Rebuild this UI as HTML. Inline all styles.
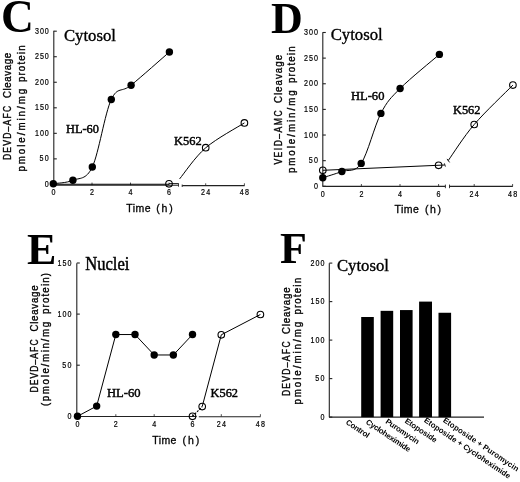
<!DOCTYPE html><html><head><meta charset="utf-8"><style>html,body{margin:0;padding:0;background:#fff;width:520px;height:482px;overflow:hidden}svg{display:block;will-change:transform}</style></head><body>
<svg width="520" height="482" viewBox="0 0 520 482">
<rect width="520" height="482" fill="#fff"/>
<text x="1.00" y="31.80" font-size="45.5" font-family='"Liberation Serif", serif' font-weight="bold" text-anchor="start" fill="#000" >C</text>
<line x1="53.80" y1="30.80" x2="53.80" y2="184.60" stroke="#222" stroke-width="1.1"/>
<line x1="53.80" y1="184.40" x2="56.80" y2="184.40" stroke="#222" stroke-width="1.1"/>
<text x="0" y="0" font-size="8.3" font-family='"Liberation Sans", sans-serif' font-weight="normal" text-anchor="end" fill="#000" stroke="#000" stroke-width="0.2" transform="translate(48.80,187.00) scale(0.86,1)" >0</text>
<line x1="53.80" y1="158.87" x2="56.80" y2="158.87" stroke="#222" stroke-width="1.1"/>
<text x="0" y="0" font-size="8.3" font-family='"Liberation Sans", sans-serif' font-weight="normal" text-anchor="end" fill="#000" textLength="10.70" lengthAdjust="spacing" stroke="#000" stroke-width="0.2" transform="translate(48.80,161.47) scale(0.86,1)" >50</text>
<line x1="53.80" y1="133.33" x2="56.80" y2="133.33" stroke="#222" stroke-width="1.1"/>
<text x="0" y="0" font-size="8.3" font-family='"Liberation Sans", sans-serif' font-weight="normal" text-anchor="end" fill="#000" textLength="16.05" lengthAdjust="spacing" stroke="#000" stroke-width="0.2" transform="translate(48.80,135.93) scale(0.86,1)" >100</text>
<line x1="53.80" y1="107.80" x2="56.80" y2="107.80" stroke="#222" stroke-width="1.1"/>
<text x="0" y="0" font-size="8.3" font-family='"Liberation Sans", sans-serif' font-weight="normal" text-anchor="end" fill="#000" textLength="16.05" lengthAdjust="spacing" stroke="#000" stroke-width="0.2" transform="translate(48.80,110.39) scale(0.86,1)" >150</text>
<line x1="53.80" y1="82.26" x2="56.80" y2="82.26" stroke="#222" stroke-width="1.1"/>
<text x="0" y="0" font-size="8.3" font-family='"Liberation Sans", sans-serif' font-weight="normal" text-anchor="end" fill="#000" textLength="16.05" lengthAdjust="spacing" stroke="#000" stroke-width="0.2" transform="translate(48.80,84.86) scale(0.86,1)" >200</text>
<line x1="53.80" y1="56.72" x2="56.80" y2="56.72" stroke="#222" stroke-width="1.1"/>
<text x="0" y="0" font-size="8.3" font-family='"Liberation Sans", sans-serif' font-weight="normal" text-anchor="end" fill="#000" textLength="16.05" lengthAdjust="spacing" stroke="#000" stroke-width="0.2" transform="translate(48.80,59.32) scale(0.86,1)" >250</text>
<line x1="53.80" y1="31.19" x2="56.80" y2="31.19" stroke="#222" stroke-width="1.1"/>
<text x="0" y="0" font-size="8.3" font-family='"Liberation Sans", sans-serif' font-weight="normal" text-anchor="end" fill="#000" textLength="16.05" lengthAdjust="spacing" stroke="#000" stroke-width="0.2" transform="translate(48.80,33.79) scale(0.86,1)" >300</text>
<line x1="53.30" y1="185.20" x2="178.50" y2="185.20" stroke="#222" stroke-width="1.1"/>
<line x1="178.50" y1="183.20" x2="178.50" y2="186.70" stroke="#222" stroke-width="0.9"/>
<line x1="182.20" y1="184.50" x2="182.20" y2="187.00" stroke="#222" stroke-width="0.9"/>
<line x1="182.20" y1="185.60" x2="244.60" y2="185.60" stroke="#222" stroke-width="1.1"/>
<line x1="92.00" y1="185.20" x2="92.00" y2="182.60" stroke="#222" stroke-width="0.8"/>
<line x1="130.50" y1="185.20" x2="130.50" y2="182.60" stroke="#222" stroke-width="0.8"/>
<line x1="169.00" y1="185.20" x2="169.00" y2="182.60" stroke="#222" stroke-width="0.8"/>
<line x1="205.70" y1="185.60" x2="205.70" y2="183.30" stroke="#222" stroke-width="0.8"/>
<line x1="244.40" y1="185.60" x2="244.40" y2="183.30" stroke="#222" stroke-width="0.8"/>
<text x="0" y="0" font-size="8.3" font-family='"Liberation Sans", sans-serif' font-weight="normal" text-anchor="middle" fill="#000" stroke="#000" stroke-width="0.2" transform="translate(53.50,195.40) scale(0.86,1)" >0</text>
<text x="0" y="0" font-size="8.3" font-family='"Liberation Sans", sans-serif' font-weight="normal" text-anchor="middle" fill="#000" stroke="#000" stroke-width="0.2" transform="translate(92.00,195.40) scale(0.86,1)" >2</text>
<text x="0" y="0" font-size="8.3" font-family='"Liberation Sans", sans-serif' font-weight="normal" text-anchor="middle" fill="#000" stroke="#000" stroke-width="0.2" transform="translate(130.50,195.40) scale(0.86,1)" >4</text>
<text x="0" y="0" font-size="8.3" font-family='"Liberation Sans", sans-serif' font-weight="normal" text-anchor="middle" fill="#000" stroke="#000" stroke-width="0.2" transform="translate(169.00,195.40) scale(0.86,1)" >6</text>
<text x="0" y="0" font-size="8.3" font-family='"Liberation Sans", sans-serif' font-weight="normal" text-anchor="middle" fill="#000" textLength="10.70" lengthAdjust="spacing" stroke="#000" stroke-width="0.2" transform="translate(205.70,195.40) scale(0.86,1)" >24</text>
<text x="0" y="0" font-size="8.3" font-family='"Liberation Sans", sans-serif' font-weight="normal" text-anchor="middle" fill="#000" textLength="10.70" lengthAdjust="spacing" stroke="#000" stroke-width="0.2" transform="translate(244.40,195.40) scale(0.86,1)" >48</text>
<text x="126.30" y="211.50" font-size="10.5" font-family='"Liberation Sans", sans-serif' font-weight="normal" text-anchor="start" fill="#000" textLength="24.20" lengthAdjust="spacing" stroke="#000" stroke-width="0.3" >Time</text>
<text x="156.30" y="211.50" font-size="10.5" font-family='"Liberation Sans", sans-serif' font-weight="normal" text-anchor="start" fill="#000" textLength="16.40" lengthAdjust="spacing" stroke="#000" stroke-width="0.3" >(h)</text>
<text x="63.90" y="41.30" font-size="16.5" font-family='"Liberation Serif", serif' font-weight="normal" text-anchor="start" fill="#000" textLength="52.00" lengthAdjust="spacingAndGlyphs" stroke="#000" stroke-width="0.35" >Cytosol</text>
<path d="M53.30,183.70 C56.57,183.13 66.40,183.08 72.90,180.30 C79.40,177.52 85.90,180.47 92.30,167.00 C98.70,153.53 104.83,113.13 111.30,99.50 C117.77,85.87 121.42,93.12 131.10,85.20 C140.78,77.28 163.02,57.53 169.40,52.00" stroke="#000" stroke-width="1.0" fill="none"/>
<circle cx="53.30" cy="183.70" r="3.7" fill="#000"/>
<circle cx="72.90" cy="180.30" r="3.7" fill="#000"/>
<circle cx="92.30" cy="167.00" r="3.7" fill="#000"/>
<circle cx="111.30" cy="99.50" r="3.7" fill="#000"/>
<circle cx="131.10" cy="85.20" r="3.7" fill="#000"/>
<circle cx="169.40" cy="52.00" r="3.7" fill="#000"/>
<line x1="53.30" y1="184.30" x2="169.00" y2="184.30" stroke="#000" stroke-width="1.1"/>
<line x1="169.00" y1="183.60" x2="178.20" y2="183.60" stroke="#000" stroke-width="0.9"/>
<path d="M179.60,178.90 C183.95,173.72 194.90,157.13 205.70,147.80 C216.50,138.47 237.95,127.05 244.40,122.90" stroke="#000" stroke-width="1.0" fill="none"/>
<circle cx="169.00" cy="183.80" r="3.3" fill="none" stroke="#000" stroke-width="1.1"/>
<circle cx="205.70" cy="147.70" r="3.3" fill="none" stroke="#000" stroke-width="1.1"/>
<circle cx="244.40" cy="122.90" r="3.3" fill="none" stroke="#000" stroke-width="1.1"/>
<text x="66.00" y="132.70" font-size="12.8" font-family='"Liberation Serif", serif' font-weight="normal" text-anchor="start" fill="#000" textLength="33.00" lengthAdjust="spacingAndGlyphs" stroke="#000" stroke-width="0.45" >HL-60</text>
<text x="174.00" y="144.50" font-size="12.8" font-family='"Liberation Serif", serif' font-weight="normal" text-anchor="start" fill="#000" textLength="27.60" lengthAdjust="spacingAndGlyphs" stroke="#000" stroke-width="0.45" >K562</text>
<text x="271.00" y="32.60" font-size="44" font-family='"Liberation Serif", serif' font-weight="bold" text-anchor="start" fill="#000" >D</text>
<line x1="322.80" y1="32.20" x2="322.80" y2="186.40" stroke="#222" stroke-width="1.1"/>
<line x1="322.80" y1="186.30" x2="325.80" y2="186.30" stroke="#222" stroke-width="1.1"/>
<text x="0" y="0" font-size="8.3" font-family='"Liberation Sans", sans-serif' font-weight="normal" text-anchor="end" fill="#000" stroke="#000" stroke-width="0.2" transform="translate(317.90,188.90) scale(0.86,1)" >0</text>
<line x1="322.80" y1="160.67" x2="325.80" y2="160.67" stroke="#222" stroke-width="1.1"/>
<text x="0" y="0" font-size="8.3" font-family='"Liberation Sans", sans-serif' font-weight="normal" text-anchor="end" fill="#000" textLength="10.70" lengthAdjust="spacing" stroke="#000" stroke-width="0.2" transform="translate(317.90,163.27) scale(0.86,1)" >50</text>
<line x1="322.80" y1="135.03" x2="325.80" y2="135.03" stroke="#222" stroke-width="1.1"/>
<text x="0" y="0" font-size="8.3" font-family='"Liberation Sans", sans-serif' font-weight="normal" text-anchor="end" fill="#000" textLength="16.05" lengthAdjust="spacing" stroke="#000" stroke-width="0.2" transform="translate(317.90,137.63) scale(0.86,1)" >100</text>
<line x1="322.80" y1="109.40" x2="325.80" y2="109.40" stroke="#222" stroke-width="1.1"/>
<text x="0" y="0" font-size="8.3" font-family='"Liberation Sans", sans-serif' font-weight="normal" text-anchor="end" fill="#000" textLength="16.05" lengthAdjust="spacing" stroke="#000" stroke-width="0.2" transform="translate(317.90,112.00) scale(0.86,1)" >150</text>
<line x1="322.80" y1="83.76" x2="325.80" y2="83.76" stroke="#222" stroke-width="1.1"/>
<text x="0" y="0" font-size="8.3" font-family='"Liberation Sans", sans-serif' font-weight="normal" text-anchor="end" fill="#000" textLength="16.05" lengthAdjust="spacing" stroke="#000" stroke-width="0.2" transform="translate(317.90,86.36) scale(0.86,1)" >200</text>
<line x1="322.80" y1="58.12" x2="325.80" y2="58.12" stroke="#222" stroke-width="1.1"/>
<text x="0" y="0" font-size="8.3" font-family='"Liberation Sans", sans-serif' font-weight="normal" text-anchor="end" fill="#000" textLength="16.05" lengthAdjust="spacing" stroke="#000" stroke-width="0.2" transform="translate(317.90,60.73) scale(0.86,1)" >250</text>
<line x1="322.80" y1="32.49" x2="325.80" y2="32.49" stroke="#222" stroke-width="1.1"/>
<text x="0" y="0" font-size="8.3" font-family='"Liberation Sans", sans-serif' font-weight="normal" text-anchor="end" fill="#000" textLength="16.05" lengthAdjust="spacing" stroke="#000" stroke-width="0.2" transform="translate(317.90,35.09) scale(0.86,1)" >300</text>
<line x1="322.60" y1="186.40" x2="445.40" y2="186.40" stroke="#222" stroke-width="1.1"/>
<line x1="445.40" y1="184.60" x2="445.40" y2="188.20" stroke="#222" stroke-width="0.9"/>
<line x1="449.50" y1="184.60" x2="449.50" y2="188.20" stroke="#222" stroke-width="0.9"/>
<line x1="449.50" y1="186.40" x2="512.80" y2="186.40" stroke="#222" stroke-width="1.1"/>
<line x1="361.40" y1="186.40" x2="361.40" y2="184.00" stroke="#222" stroke-width="0.8"/>
<line x1="400.00" y1="186.40" x2="400.00" y2="184.00" stroke="#222" stroke-width="0.8"/>
<line x1="438.60" y1="186.40" x2="438.60" y2="184.00" stroke="#222" stroke-width="0.8"/>
<line x1="474.20" y1="186.40" x2="474.20" y2="184.00" stroke="#222" stroke-width="0.8"/>
<line x1="512.60" y1="186.40" x2="512.60" y2="184.00" stroke="#222" stroke-width="0.8"/>
<text x="0" y="0" font-size="8.3" font-family='"Liberation Sans", sans-serif' font-weight="normal" text-anchor="middle" fill="#000" stroke="#000" stroke-width="0.2" transform="translate(322.80,197.20) scale(0.86,1)" >0</text>
<text x="0" y="0" font-size="8.3" font-family='"Liberation Sans", sans-serif' font-weight="normal" text-anchor="middle" fill="#000" stroke="#000" stroke-width="0.2" transform="translate(361.40,197.20) scale(0.86,1)" >2</text>
<text x="0" y="0" font-size="8.3" font-family='"Liberation Sans", sans-serif' font-weight="normal" text-anchor="middle" fill="#000" stroke="#000" stroke-width="0.2" transform="translate(400.00,197.20) scale(0.86,1)" >4</text>
<text x="0" y="0" font-size="8.3" font-family='"Liberation Sans", sans-serif' font-weight="normal" text-anchor="middle" fill="#000" stroke="#000" stroke-width="0.2" transform="translate(438.60,197.20) scale(0.86,1)" >6</text>
<text x="0" y="0" font-size="8.3" font-family='"Liberation Sans", sans-serif' font-weight="normal" text-anchor="middle" fill="#000" textLength="10.70" lengthAdjust="spacing" stroke="#000" stroke-width="0.2" transform="translate(474.20,197.20) scale(0.86,1)" >24</text>
<text x="0" y="0" font-size="8.3" font-family='"Liberation Sans", sans-serif' font-weight="normal" text-anchor="middle" fill="#000" textLength="10.70" lengthAdjust="spacing" stroke="#000" stroke-width="0.2" transform="translate(512.60,197.20) scale(0.86,1)" >48</text>
<text x="394.45" y="213.40" font-size="10.5" font-family='"Liberation Sans", sans-serif' font-weight="normal" text-anchor="start" fill="#000" textLength="24.50" lengthAdjust="spacing" stroke="#000" stroke-width="0.3" >Time</text>
<text x="425.00" y="213.40" font-size="10.5" font-family='"Liberation Sans", sans-serif' font-weight="normal" text-anchor="start" fill="#000" textLength="16.00" lengthAdjust="spacing" stroke="#000" stroke-width="0.3" >(h)</text>
<text x="330.70" y="40.10" font-size="16.5" font-family='"Liberation Serif", serif' font-weight="normal" text-anchor="start" fill="#000" textLength="52.00" lengthAdjust="spacingAndGlyphs" stroke="#000" stroke-width="0.35" >Cytosol</text>
<line x1="322.80" y1="170.30" x2="444.60" y2="165.00" stroke="#000" stroke-width="1.0"/>
<line x1="444.40" y1="163.40" x2="445.40" y2="166.60" stroke="#000" stroke-width="0.9"/>
<path d="M448.20,160.60 C452.53,154.58 463.42,137.08 474.20,124.50 C484.98,111.92 506.45,91.67 512.90,85.10" stroke="#000" stroke-width="1.0" fill="none"/>
<line x1="447.00" y1="158.90" x2="449.60" y2="162.40" stroke="#000" stroke-width="0.9"/>
<circle cx="322.80" cy="170.30" r="3.3" fill="none" stroke="#000" stroke-width="1.1"/>
<circle cx="438.60" cy="165.30" r="3.3" fill="none" stroke="#000" stroke-width="1.1"/>
<circle cx="474.20" cy="124.50" r="3.3" fill="none" stroke="#000" stroke-width="1.1"/>
<circle cx="512.90" cy="85.10" r="3.3" fill="none" stroke="#000" stroke-width="1.1"/>
<path d="M322.80,177.70 C325.98,176.67 335.50,173.88 341.90,171.50 C348.30,169.12 354.70,173.08 361.20,163.40 C367.70,153.72 374.42,125.88 380.90,113.40 C387.38,100.92 390.35,98.33 400.10,88.50 C409.85,78.67 432.85,60.08 439.40,54.40" stroke="#000" stroke-width="1.0" fill="none"/>
<circle cx="322.80" cy="177.70" r="3.7" fill="#000"/>
<circle cx="341.90" cy="171.50" r="3.7" fill="#000"/>
<circle cx="361.20" cy="163.40" r="3.7" fill="#000"/>
<circle cx="380.90" cy="113.40" r="3.7" fill="#000"/>
<circle cx="400.10" cy="88.50" r="3.7" fill="#000"/>
<circle cx="439.40" cy="54.40" r="3.7" fill="#000"/>
<text x="351.00" y="99.60" font-size="12.8" font-family='"Liberation Serif", serif' font-weight="normal" text-anchor="start" fill="#000" textLength="33.40" lengthAdjust="spacingAndGlyphs" stroke="#000" stroke-width="0.45" >HL-60</text>
<text x="453.00" y="114.00" font-size="12.8" font-family='"Liberation Serif", serif' font-weight="normal" text-anchor="start" fill="#000" textLength="27.40" lengthAdjust="spacingAndGlyphs" stroke="#000" stroke-width="0.45" >K562</text>
<text x="27.00" y="263.60" font-size="44" font-family='"Liberation Serif", serif' font-weight="bold" text-anchor="start" fill="#000" >E</text>
<line x1="76.80" y1="263.30" x2="76.80" y2="416.50" stroke="#222" stroke-width="1.1"/>
<line x1="76.80" y1="416.30" x2="79.80" y2="416.30" stroke="#222" stroke-width="1.1"/>
<text x="0" y="0" font-size="8.3" font-family='"Liberation Sans", sans-serif' font-weight="normal" text-anchor="end" fill="#000" stroke="#000" stroke-width="0.2" transform="translate(71.40,418.90) scale(0.86,1)" >0</text>
<line x1="76.80" y1="365.20" x2="79.80" y2="365.20" stroke="#222" stroke-width="1.1"/>
<text x="0" y="0" font-size="8.3" font-family='"Liberation Sans", sans-serif' font-weight="normal" text-anchor="end" fill="#000" textLength="10.70" lengthAdjust="spacing" stroke="#000" stroke-width="0.2" transform="translate(71.40,367.80) scale(0.86,1)" >50</text>
<line x1="76.80" y1="314.10" x2="79.80" y2="314.10" stroke="#222" stroke-width="1.1"/>
<text x="0" y="0" font-size="8.3" font-family='"Liberation Sans", sans-serif' font-weight="normal" text-anchor="end" fill="#000" textLength="16.05" lengthAdjust="spacing" stroke="#000" stroke-width="0.2" transform="translate(71.40,316.70) scale(0.86,1)" >100</text>
<line x1="76.80" y1="263.00" x2="79.80" y2="263.00" stroke="#222" stroke-width="1.1"/>
<text x="0" y="0" font-size="8.3" font-family='"Liberation Sans", sans-serif' font-weight="normal" text-anchor="end" fill="#000" textLength="16.05" lengthAdjust="spacing" stroke="#000" stroke-width="0.2" transform="translate(71.40,265.60) scale(0.86,1)" >150</text>
<line x1="76.60" y1="416.50" x2="196.60" y2="416.50" stroke="#222" stroke-width="1.1"/>
<line x1="198.80" y1="416.70" x2="260.60" y2="416.70" stroke="#222" stroke-width="1.1"/>
<line x1="115.84" y1="416.50" x2="115.84" y2="414.20" stroke="#222" stroke-width="0.8"/>
<line x1="154.18" y1="416.50" x2="154.18" y2="414.20" stroke="#222" stroke-width="0.8"/>
<line x1="192.52" y1="416.50" x2="192.52" y2="414.20" stroke="#222" stroke-width="0.8"/>
<line x1="221.30" y1="416.50" x2="221.30" y2="414.20" stroke="#222" stroke-width="0.8"/>
<line x1="260.40" y1="416.50" x2="260.40" y2="414.20" stroke="#222" stroke-width="0.8"/>
<text x="0" y="0" font-size="8.3" font-family='"Liberation Sans", sans-serif' font-weight="normal" text-anchor="middle" fill="#000" stroke="#000" stroke-width="0.2" transform="translate(77.50,427.40) scale(0.86,1)" >0</text>
<text x="0" y="0" font-size="8.3" font-family='"Liberation Sans", sans-serif' font-weight="normal" text-anchor="middle" fill="#000" stroke="#000" stroke-width="0.2" transform="translate(115.84,427.40) scale(0.86,1)" >2</text>
<text x="0" y="0" font-size="8.3" font-family='"Liberation Sans", sans-serif' font-weight="normal" text-anchor="middle" fill="#000" stroke="#000" stroke-width="0.2" transform="translate(154.18,427.40) scale(0.86,1)" >4</text>
<text x="0" y="0" font-size="8.3" font-family='"Liberation Sans", sans-serif' font-weight="normal" text-anchor="middle" fill="#000" stroke="#000" stroke-width="0.2" transform="translate(192.52,427.40) scale(0.86,1)" >6</text>
<text x="0" y="0" font-size="8.3" font-family='"Liberation Sans", sans-serif' font-weight="normal" text-anchor="middle" fill="#000" textLength="10.70" lengthAdjust="spacing" stroke="#000" stroke-width="0.2" transform="translate(221.30,427.40) scale(0.86,1)" >24</text>
<text x="0" y="0" font-size="8.3" font-family='"Liberation Sans", sans-serif' font-weight="normal" text-anchor="middle" fill="#000" textLength="10.70" lengthAdjust="spacing" stroke="#000" stroke-width="0.2" transform="translate(260.40,427.40) scale(0.86,1)" >48</text>
<text x="152.30" y="443.50" font-size="10.5" font-family='"Liberation Sans", sans-serif' font-weight="normal" text-anchor="start" fill="#000" textLength="24.10" lengthAdjust="spacing" stroke="#000" stroke-width="0.3" >Time</text>
<text x="182.50" y="443.50" font-size="10.5" font-family='"Liberation Sans", sans-serif' font-weight="normal" text-anchor="start" fill="#000" textLength="16.70" lengthAdjust="spacing" stroke="#000" stroke-width="0.3" >(h)</text>
<text x="85.20" y="270.30" font-size="18" font-family='"Liberation Serif", serif' font-weight="normal" text-anchor="start" fill="#000" textLength="44.20" lengthAdjust="spacingAndGlyphs" stroke="#000" stroke-width="0.45" >Nuclei</text>
<path d="M77.50,416.30 L96.67,406.08 L115.84,334.54 L135.01,334.54 L154.18,354.98 L173.35,354.98 L192.52,334.54" stroke="#000" stroke-width="1.0" fill="none"/>
<circle cx="77.50" cy="416.30" r="3.7" fill="#000"/>
<circle cx="96.67" cy="406.08" r="3.7" fill="#000"/>
<circle cx="115.84" cy="334.54" r="3.7" fill="#000"/>
<circle cx="135.01" cy="334.54" r="3.7" fill="#000"/>
<circle cx="154.18" cy="354.98" r="3.7" fill="#000"/>
<circle cx="173.35" cy="354.98" r="3.7" fill="#000"/>
<circle cx="192.52" cy="334.54" r="3.7" fill="#000"/>
<line x1="192.5" y1="416.3" x2="202.2" y2="406.6" stroke="#000" stroke-width="1.1" stroke-dasharray="2,1.2"/>
<path d="M202.20,406.60 L221.30,334.80 L260.40,314.50" stroke="#000" stroke-width="1.0" fill="none"/>
<circle cx="192.50" cy="416.30" r="3.3" fill="none" stroke="#000" stroke-width="1.1"/>
<circle cx="202.20" cy="406.60" r="3.3" fill="none" stroke="#000" stroke-width="1.1"/>
<circle cx="221.30" cy="334.80" r="3.3" fill="none" stroke="#000" stroke-width="1.1"/>
<circle cx="260.40" cy="314.50" r="3.3" fill="none" stroke="#000" stroke-width="1.1"/>
<text x="107.00" y="396.70" font-size="12.8" font-family='"Liberation Serif", serif' font-weight="normal" text-anchor="start" fill="#000" textLength="33.60" lengthAdjust="spacingAndGlyphs" stroke="#000" stroke-width="0.45" >HL-60</text>
<text x="210.60" y="397.30" font-size="12.8" font-family='"Liberation Serif", serif' font-weight="normal" text-anchor="start" fill="#000" textLength="27.40" lengthAdjust="spacingAndGlyphs" stroke="#000" stroke-width="0.45" >K562</text>
<text x="280.00" y="262.80" font-size="44" font-family='"Liberation Serif", serif' font-weight="bold" text-anchor="start" fill="#000" >F</text>
<line x1="329.30" y1="263.20" x2="329.30" y2="417.20" stroke="#222" stroke-width="1.1"/>
<line x1="329.30" y1="417.10" x2="332.30" y2="417.10" stroke="#222" stroke-width="1.1"/>
<text x="0" y="0" font-size="8.3" font-family='"Liberation Sans", sans-serif' font-weight="normal" text-anchor="end" fill="#000" stroke="#000" stroke-width="0.2" transform="translate(324.40,419.70) scale(0.86,1)" >0</text>
<line x1="329.30" y1="378.60" x2="332.30" y2="378.60" stroke="#222" stroke-width="1.1"/>
<text x="0" y="0" font-size="8.3" font-family='"Liberation Sans", sans-serif' font-weight="normal" text-anchor="end" fill="#000" textLength="10.70" lengthAdjust="spacing" stroke="#000" stroke-width="0.2" transform="translate(324.40,381.20) scale(0.86,1)" >50</text>
<line x1="329.30" y1="340.10" x2="332.30" y2="340.10" stroke="#222" stroke-width="1.1"/>
<text x="0" y="0" font-size="8.3" font-family='"Liberation Sans", sans-serif' font-weight="normal" text-anchor="end" fill="#000" textLength="16.05" lengthAdjust="spacing" stroke="#000" stroke-width="0.2" transform="translate(324.40,342.70) scale(0.86,1)" >100</text>
<line x1="329.30" y1="301.60" x2="332.30" y2="301.60" stroke="#222" stroke-width="1.1"/>
<text x="0" y="0" font-size="8.3" font-family='"Liberation Sans", sans-serif' font-weight="normal" text-anchor="end" fill="#000" textLength="16.05" lengthAdjust="spacing" stroke="#000" stroke-width="0.2" transform="translate(324.40,304.20) scale(0.86,1)" >150</text>
<line x1="329.30" y1="263.10" x2="332.30" y2="263.10" stroke="#222" stroke-width="1.1"/>
<text x="0" y="0" font-size="8.3" font-family='"Liberation Sans", sans-serif' font-weight="normal" text-anchor="end" fill="#000" textLength="16.05" lengthAdjust="spacing" stroke="#000" stroke-width="0.2" transform="translate(324.40,265.70) scale(0.86,1)" >200</text>
<line x1="329.00" y1="417.10" x2="484.00" y2="417.10" stroke="#222" stroke-width="1.1"/>
<rect x="361.20" y="317.00" width="12.60" height="100.10" fill="#000"/>
<rect x="380.60" y="310.84" width="12.60" height="106.26" fill="#000"/>
<rect x="400.00" y="310.07" width="12.60" height="107.03" fill="#000"/>
<rect x="419.10" y="301.60" width="12.90" height="115.50" fill="#000"/>
<rect x="438.50" y="312.76" width="12.60" height="104.34" fill="#000"/>
<text x="336.90" y="270.70" font-size="16.5" font-family='"Liberation Serif", serif' font-weight="normal" text-anchor="start" fill="#000" textLength="52.00" lengthAdjust="spacingAndGlyphs" stroke="#000" stroke-width="0.35" >Cytosol</text>
<text x="0" y="0" font-size="7.8" font-family='"Liberation Sans", sans-serif' font-weight="bold" text-anchor="start" fill="#000" textLength="26.50" lengthAdjust="spacing" transform="translate(345.30,423.40) rotate(34)" >Control</text>
<text x="0" y="0" font-size="7.8" font-family='"Liberation Sans", sans-serif' font-weight="bold" text-anchor="start" fill="#000" textLength="52.00" lengthAdjust="spacing" transform="translate(365.30,423.20) rotate(34)" >Cycloheximide</text>
<text x="0" y="0" font-size="7.8" font-family='"Liberation Sans", sans-serif' font-weight="bold" text-anchor="start" fill="#000" textLength="39.00" lengthAdjust="spacing" transform="translate(384.90,422.70) rotate(34)" >Puromycin</text>
<text x="0" y="0" font-size="7.8" font-family='"Liberation Sans", sans-serif' font-weight="bold" text-anchor="start" fill="#000" textLength="37.00" lengthAdjust="spacing" transform="translate(404.20,422.20) rotate(34)" >Etoposide</text>
<text x="0" y="0" font-size="7.8" font-family='"Liberation Sans", sans-serif' font-weight="bold" text-anchor="start" fill="#000" textLength="102.50" lengthAdjust="spacing" transform="translate(423.40,421.60) rotate(34)" >Etoposide + Cycloheximide</text>
<text x="0" y="0" font-size="7.8" font-family='"Liberation Sans", sans-serif' font-weight="bold" text-anchor="start" fill="#000" textLength="89.50" lengthAdjust="spacing" transform="translate(442.40,421.60) rotate(34)" >Etoposide + Puromycin</text>
<text x="0" y="0" font-size="10" font-family='"Liberation Sans", sans-serif' font-weight="normal" text-anchor="start" fill="#000" textLength="63.02" lengthAdjust="spacing" stroke="#000" stroke-width="0.35" transform="translate(11.00,160.10) rotate(-90) scale(0.86,1)" >DEVD–AFC</text>
<text x="0" y="0" font-size="10" font-family='"Liberation Sans", sans-serif' font-weight="normal" text-anchor="start" fill="#000" textLength="46.60" lengthAdjust="spacing" stroke="#000" stroke-width="0.35" transform="translate(11.00,98.10) rotate(-90) scale(0.97,1)" >Cleavage</text>
<text x="0" y="0" font-size="10" font-family='"Liberation Sans", sans-serif' font-weight="normal" text-anchor="start" fill="#000" textLength="85.26" lengthAdjust="spacing" stroke="#000" stroke-width="0.35" transform="translate(24.90,171.60) rotate(-90) scale(0.97,1)" >pmole/min/mg</text>
<text x="0" y="0" font-size="10" font-family='"Liberation Sans", sans-serif' font-weight="normal" text-anchor="start" fill="#000" textLength="37.84" lengthAdjust="spacing" stroke="#000" stroke-width="0.35" transform="translate(24.90,82.10) rotate(-90) scale(0.97,1)" >protein</text>
<text x="0" y="0" font-size="10" font-family='"Liberation Sans", sans-serif' font-weight="normal" text-anchor="start" fill="#000" textLength="63.02" lengthAdjust="spacing" stroke="#000" stroke-width="0.35" transform="translate(281.80,164.60) rotate(-90) scale(0.86,1)" >VEID–AMC</text>
<text x="0" y="0" font-size="10" font-family='"Liberation Sans", sans-serif' font-weight="normal" text-anchor="start" fill="#000" textLength="49.69" lengthAdjust="spacing" stroke="#000" stroke-width="0.35" transform="translate(281.80,103.10) rotate(-90) scale(0.97,1)" >Cleavage</text>
<text x="0" y="0" font-size="10" font-family='"Liberation Sans", sans-serif' font-weight="normal" text-anchor="start" fill="#000" textLength="85.26" lengthAdjust="spacing" stroke="#000" stroke-width="0.35" transform="translate(295.40,173.10) rotate(-90) scale(0.97,1)" >pmole/min/mg</text>
<text x="0" y="0" font-size="10" font-family='"Liberation Sans", sans-serif' font-weight="normal" text-anchor="start" fill="#000" textLength="37.84" lengthAdjust="spacing" stroke="#000" stroke-width="0.35" transform="translate(295.40,83.10) rotate(-90) scale(0.97,1)" >protein</text>
<text x="0" y="0" font-size="10" font-family='"Liberation Sans", sans-serif' font-weight="normal" text-anchor="start" fill="#000" textLength="61.86" lengthAdjust="spacing" stroke="#000" stroke-width="0.35" transform="translate(38.00,392.60) rotate(-90) scale(0.86,1)" >DEVD–AFC</text>
<text x="0" y="0" font-size="10" font-family='"Liberation Sans", sans-serif' font-weight="normal" text-anchor="start" fill="#000" textLength="47.63" lengthAdjust="spacing" stroke="#000" stroke-width="0.35" transform="translate(38.00,331.60) rotate(-90) scale(0.97,1)" >Cleavage</text>
<text x="0" y="0" font-size="10" font-family='"Liberation Sans", sans-serif' font-weight="normal" text-anchor="start" fill="#000" textLength="86.80" lengthAdjust="spacing" stroke="#000" stroke-width="0.35" transform="translate(48.60,406.10) rotate(-90) scale(0.97,1)" >(pmole/min/mg</text>
<text x="0" y="0" font-size="10" font-family='"Liberation Sans", sans-serif' font-weight="normal" text-anchor="start" fill="#000" textLength="42.47" lengthAdjust="spacing" stroke="#000" stroke-width="0.35" transform="translate(48.60,314.10) rotate(-90) scale(0.97,1)" >protein)</text>
<text x="0" y="0" font-size="10" font-family='"Liberation Sans", sans-serif' font-weight="normal" text-anchor="start" fill="#000" textLength="63.60" lengthAdjust="spacing" stroke="#000" stroke-width="0.35" transform="translate(289.80,396.10) rotate(-90) scale(0.86,1)" >DEVD–AFC</text>
<text x="0" y="0" font-size="10" font-family='"Liberation Sans", sans-serif' font-weight="normal" text-anchor="start" fill="#000" textLength="48.14" lengthAdjust="spacing" stroke="#000" stroke-width="0.35" transform="translate(289.80,334.10) rotate(-90) scale(0.97,1)" >Cleavage</text>
<text x="0" y="0" font-size="10" font-family='"Liberation Sans", sans-serif' font-weight="normal" text-anchor="start" fill="#000" textLength="85.26" lengthAdjust="spacing" stroke="#000" stroke-width="0.35" transform="translate(301.00,404.60) rotate(-90) scale(0.97,1)" >pmole/min/mg</text>
<text x="0" y="0" font-size="10" font-family='"Liberation Sans", sans-serif' font-weight="normal" text-anchor="start" fill="#000" textLength="37.84" lengthAdjust="spacing" stroke="#000" stroke-width="0.35" transform="translate(301.00,314.60) rotate(-90) scale(0.97,1)" >protein</text>
</svg></body></html>
